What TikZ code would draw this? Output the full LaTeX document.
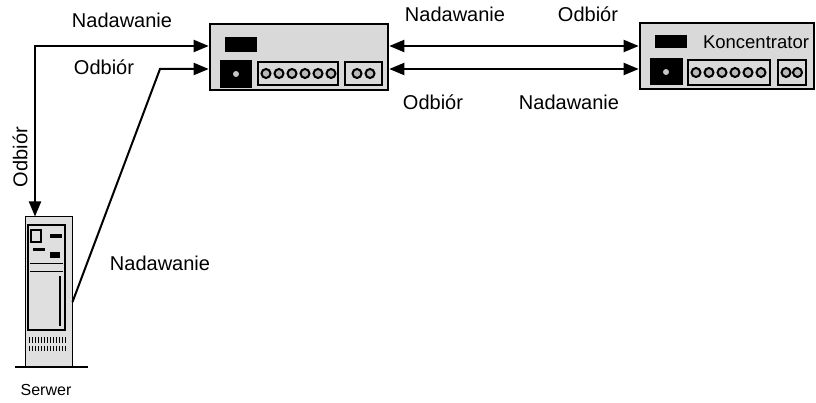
\documentclass[tikz,border=0pt]{standalone}
\usepackage{fontspec}
\setmainfont{Liberation Sans}
\usetikzlibrary{arrows.meta}

\tikzset{
  >={Triangle[length=15pt,width=12pt]},
  lbl/.style={font=\fontsize{20}{24}\selectfont, inner sep=0pt},
  link/.style={line width=2pt},
  hub/.style={draw, line width=2.6pt, fill=gray!30, minimum width=#1, minimum height=66pt, inner sep=0pt},
  panel/.style={draw, line width=2pt, fill=gray!30},
  port/.style={draw, line width=2pt, fill=gray!55}
}

\begin{document}
\begin{tikzpicture}[x=1pt,y=-1pt]
  \useasboundingbox (0,0) rectangle (816,403);

  % the two hubs
  \node[hub=178pt] (hubA) at (299,57) {};
  \node[hub=174pt] (hubB) at (727,56) {};

  % front of the first hub
  \fill (225,37) rectangle (257,52);
  \fill (220,60) rectangle (252,88);
  \fill[gray!45] (236,74) circle (3pt);
  \draw[panel] (258,62) rectangle (338,85);
  \draw[panel] (345,62) rectangle (382,85);
  \foreach \i in {0,...,5}
    \draw[port] (266+\i*13,73.5) circle (4.5pt);
  \foreach \i in {0,1}
    \draw[port] (357+\i*13,73.5) circle (4.5pt);

  % front of the second hub
  \fill (655,35) rectangle (687,48);
  \node[font=\fontsize{18.5}{22}\selectfont, inner sep=0pt] (hubBname) at (756,42) {Koncentrator};
  \fill (650,58) rectangle (683,85);
  \fill[gray!45] (666,72) circle (3pt);
  \draw[panel] (688,60) rectangle (770,85);
  \draw[panel] (778,60) rectangle (806,85);
  \foreach \i in {0,...,5}
    \draw[port] (696+\i*13,72.5) circle (4.5pt);
  \foreach \i in {0,1}
    \draw[port] (786+\i*11.5,72.5) circle (4.5pt);

  % server cabinet
  \node[draw, line width=1pt, fill=gray!25, minimum width=47pt, minimum height=150pt, inner sep=0pt] (srv) at (48.5,292) {};
  \draw[line width=2pt] (28,225) rectangle (65,330);
  \draw[line width=1.2pt] (31,230) rectangle (41,242);
  \fill (50,234) rectangle (62,238);
  \fill (33,248) rectangle (45,251);
  \fill (50,252) rectangle (60,258);
  \draw[line width=1pt] (30,264) -- (63,264);
  \draw[line width=1pt] (30,272) -- (63,272);
  \draw[line width=1.2pt] (60,276) -- (60,326);
  \foreach \i in {0,...,12}
    \draw[line width=0.9pt] (29+\i*3,337) -- (29+\i*3,343) (29+\i*3,346) -- (29+\i*3,351);
  \draw[line width=2.4pt] (15,367) -- (88,367);
  \node[font=\fontsize{16}{19}\selectfont, inner sep=0pt] (srvname) at (46,390) {Serwer};

  % connections
  \coordinate (rx) at (35,46);
  \coordinate (bend) at (160,69);
  \draw[link,<->] (hubA.west |- rx) -- (rx) -- (rx |- srv.north);
  \draw[link,->] ([yshift=-10pt]srv.east) -- (bend) -- (hubA.west |- bend);
  \draw[link,<->] ([yshift=11pt]hubA.east) -- ([yshift=11pt]hubA.east -| hubB.west);
  \draw[link,<->] ([yshift=-12pt]hubA.east) -- ([yshift=-12pt]hubA.east -| hubB.west);

  % labels
  \node[lbl] (txA) at (122,20) {Nadawanie};
  \node[lbl] (rxA) at (104,67) {Odbiór};
  \node[lbl, rotate=90] (rxSrv) at (20,157) {Odbiór};
  \node[lbl] (txSrv) at (160,263) {Nadawanie};
  \node[lbl] (txB) at (455,14) {Nadawanie};
  \node[lbl] (rxB) at (588,14) {Odbiór};
  \node[lbl] (rxC) at (433,102) {Odbiór};
  \node[lbl] (txC) at (569,102) {Nadawanie};
\end{tikzpicture}
\end{document}
